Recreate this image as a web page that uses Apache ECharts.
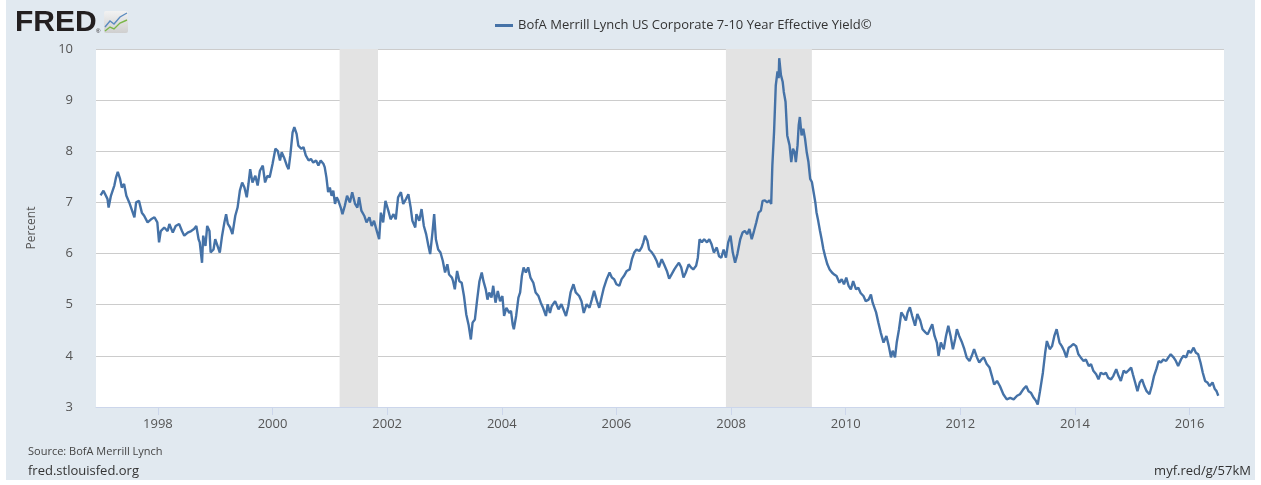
<!DOCTYPE html>
<html>
<head>
<meta charset="utf-8">
<script src="https://cdn.jsdelivr.net/npm/echarts@6/dist/echarts.min.js"></script>
<style>
  html, body { margin: 0; padding: 0; background: #fff; }
  #chart { width: 1261px; height: 485px; }
</style>
</head>
<body>
<div id="chart"></div>
<script>
const years = [
  1997.00,1997.05,1997.08,1997.12,1997.14,1997.18,1997.24,1997.27,1997.30,1997.34,
  1997.37,1997.41,1997.45,1997.50,1997.55,1997.59,1997.62,1997.67,1997.72,1997.76,
  1997.79,1997.82,1997.88,1997.94,1997.99,1998.02,1998.05,1998.11,1998.17,1998.20,
  1998.26,1998.31,1998.37,1998.42,1998.46,1998.52,1998.58,1998.63,1998.67,1998.71,
  1998.73,1998.77,1998.79,1998.83,1998.86,1998.90,1998.92,1998.97,1999.00,1999.04,
  1999.08,1999.12,1999.16,1999.19,1999.22,1999.26,1999.30,1999.35,1999.39,1999.43,
  1999.47,1999.51,1999.55,1999.58,1999.61,1999.65,1999.70,1999.74,1999.78,1999.83,
  1999.87,1999.91,1999.95,2000.00,2000.05,2000.09,2000.13,2000.16,2000.20,2000.25,
  2000.28,2000.31,2000.35,2000.38,2000.42,2000.45,2000.50,2000.54,2000.58,2000.63,
  2000.67,2000.71,2000.76,2000.80,2000.84,
  2000.89,2000.91,2000.94,2000.97,2001.00,2001.03,2001.06,2001.09,2001.12,2001.15,
  2001.19,2001.22,2001.26,2001.30,2001.35,2001.39,2001.44,2001.48,2001.51,2001.55,
  2001.60,2001.64,2001.69,2001.73,2001.77,2001.82,2001.86,2001.89,2001.93,2001.97,
  2002.02,2002.06,2002.11,2002.15,2002.19,2002.24,2002.28,2002.33,2002.37,2002.41,
  2002.44,2002.49,2002.51,2002.56,2002.60,2002.64,2002.68,2002.72,2002.75,2002.79,
  2002.82,2002.85,2002.89,2002.93,2002.97,2003.01,2003.05,2003.08,2003.13,2003.15,
  2003.18,2003.22,2003.26,2003.30,2003.34,2003.38,2003.42,2003.46,2003.49,2003.53,
  2003.57,2003.61,2003.65,2003.68,2003.72,2003.75,2003.78,2003.82,2003.85,2003.89,
  2003.93,2003.97,2004.01,2004.04,2004.08,2004.13,2004.16,2004.19,2004.21,2004.25,
  2004.29,2004.32,2004.35,2004.38,2004.42,2004.46,2004.50,2004.55,2004.59,2004.64,
  2004.68,2004.72,2004.77,2004.80,2004.84,
  2004.87,2004.93,2004.99,2005.04,2005.12,2005.16,2005.20,2005.25,2005.29,2005.35,
  2005.39,2005.43,2005.48,2005.53,2005.57,2005.61,2005.66,2005.70,2005.74,2005.78,
  2005.83,2005.88,2005.92,2005.96,2006.00,2006.05,2006.09,2006.13,2006.18,2006.23,
  2006.27,2006.31,2006.35,2006.40,2006.44,2006.47,2006.50,2006.54,2006.57,2006.62,
  2006.66,2006.70,2006.74,2006.79,2006.83,2006.88,2006.92,2006.96,2007.01,2007.05,
  2007.09,2007.13,2007.17,2007.21,2007.26,2007.30,2007.34,2007.39,2007.42,2007.45,
  2007.49,2007.53,2007.58,2007.62,2007.66,2007.70,2007.75,2007.79,2007.83,2007.87,
  2007.91,2007.95,2007.99,2008.03,2008.07,2008.11,2008.16,2008.20,2008.24,2008.28,
  2008.32,2008.36,2008.40,2008.44,2008.48,2008.52,2008.55,
  2008.59,2008.63,2008.67,2008.70,2008.72,2008.75,2008.78,2008.81,2008.83,2008.84,
  2008.87,2008.90,2008.92,2008.95,2008.98,2009.02,2009.05,2009.08,2009.11,2009.13,
  2009.16,2009.18,2009.20,2009.23,2009.26,2009.29,2009.32,2009.35,2009.38,2009.41,
  2009.44,2009.47,2009.49,2009.52,2009.55,2009.58,2009.61,2009.64,2009.68,2009.72,
  2009.76,2009.80,2009.84,2009.89,2009.93,2009.97,2010.01,2010.05,2010.09,2010.13,
  2010.18,2010.22,2010.26,2010.31,2010.35,2010.40,2010.44,2010.47,
  2010.53,2010.57,2010.61,2010.66,2010.71,2010.75,2010.79,2010.82,2010.86,2010.89,
  2010.93,2010.97,2011.01,2011.05,2011.08,2011.12,2011.16,2011.21,2011.25,2011.30,
  2011.34,2011.39,2011.43,2011.47,2011.51,2011.55,2011.59,2011.62,2011.66,2011.71,
  2011.75,2011.79,2011.83,2011.87,2011.91,2011.94,2011.98,2012.03,2012.07,2012.11,
  2012.16,2012.20,2012.24,2012.29,2012.33,2012.37,2012.41,2012.46,2012.51,
  2012.55,2012.59,2012.64,2012.69,2012.75,2012.81,2012.87,2012.93,2012.99,2013.04,
  2013.10,2013.15,2013.19,2013.23,2013.28,2013.32,2013.35,2013.39,2013.44,2013.48,
  2013.51,2013.56,2013.60,2013.64,2013.68,2013.73,2013.77,2013.81,2013.85,2013.89,
  2013.93,2013.97,2014.02,2014.06,2014.10,2014.15,2014.19,2014.24,2014.28,2014.32,
  2014.37,2014.41,2014.45,2014.50,2014.54,2014.58,2014.63,2014.67,2014.72,2014.76,
  2014.80,2014.85,2014.89,2014.93,2014.98,2015.01,2015.05,2015.09,2015.13,2015.17,
  2015.21,2015.25,2015.30,2015.34,2015.38,2015.42,2015.46,2015.50,2015.54,2015.59,
  2015.63,2015.67,2015.72,2015.76,2015.80,2015.85,2015.89,2015.94,2015.98,2016.02,
  2016.07,2016.11,2016.15,2016.19,2016.23,2016.27,2016.31,2016.35,2016.40,2016.44,
  2016.47,2016.50
];

// effective yield, percent
const yieldPct = [
  7.14,7.23,7.25,7.07,6.90,7.13,7.33,7.49,7.60,7.46,
  7.29,7.36,7.13,7.00,6.84,6.71,7.00,7.03,6.80,6.74,
  6.77,6.61,6.67,6.71,6.61,6.22,6.44,6.51,6.44,6.58,
  6.41,6.54,6.58,6.44,6.35,6.41,6.44,6.48,6.54,6.28,
  6.22,5.82,6.35,6.15,6.54,6.44,6.02,6.08,6.28,6.15,
  6.02,6.35,6.61,6.77,6.58,6.51,6.38,6.74,6.90,7.23,
  7.39,7.29,7.10,7.36,7.65,7.39,7.52,7.33,7.62,7.72,
  7.39,7.52,7.49,7.75,8.05,8.01,7.82,7.98,7.88,7.72,
  7.65,7.92,8.37,8.47,8.34,8.11,8.05,8.08,7.92,7.82,
  7.85,7.78,7.82,7.72,7.82,
  7.75,7.69,7.49,7.20,7.29,7.13,7.23,6.97,7.10,7.03,
  6.90,6.77,6.93,7.13,7.00,7.20,6.97,6.90,7.10,6.84,
  6.74,6.61,6.71,6.54,6.64,6.44,6.28,6.80,6.61,7.03,
  6.84,6.67,6.77,6.67,7.10,7.20,6.97,7.07,7.16,6.90,
  6.64,6.51,6.77,6.64,6.87,6.54,6.38,6.15,5.99,6.41,
  6.77,6.28,6.08,6.02,5.86,5.63,5.79,5.59,5.53,5.46,
  5.30,5.66,5.46,5.43,5.17,4.81,4.61,4.32,4.65,4.71,
  5.10,5.46,5.63,5.46,5.30,5.10,5.24,5.14,5.37,5.04,
  5.27,5.07,5.17,4.78,4.94,4.84,4.88,4.61,4.52,4.78,
  5.14,5.24,5.56,5.73,5.63,5.73,5.53,5.43,5.24,5.17,
  5.04,4.94,4.78,5.01,4.84,
  4.97,5.07,4.91,5.01,4.78,4.97,5.24,5.40,5.24,5.17,
  5.07,4.84,5.01,4.94,5.10,5.27,5.07,4.94,5.14,5.33,
  5.50,5.63,5.53,5.50,5.40,5.37,5.50,5.56,5.66,5.69,
  5.89,6.02,6.08,6.05,6.12,6.22,6.35,6.25,6.08,6.02,
  5.95,5.86,5.73,5.89,5.79,5.66,5.51,5.59,5.69,5.76,
  5.82,5.73,5.53,5.63,5.79,5.73,5.69,5.76,5.92,6.28,
  6.22,6.28,6.22,6.28,6.18,6.02,6.12,5.95,5.92,6.08,
  5.92,6.22,6.35,6.02,5.82,5.99,6.28,6.41,6.44,6.38,
  6.48,6.28,6.44,6.61,6.80,6.84,7.03,
  7.04,7.00,7.04,6.97,7.72,8.38,9.29,9.56,9.43,9.82,
  9.49,9.36,9.16,8.97,8.31,8.12,7.79,8.05,7.98,7.79,
  8.12,8.51,8.67,8.31,8.44,8.25,7.98,7.79,7.46,7.40,
  7.20,7.00,6.81,6.64,6.45,6.28,6.09,5.95,5.79,5.69,
  5.63,5.59,5.56,5.43,5.50,5.40,5.53,5.37,5.30,5.46,
  5.30,5.33,5.23,5.17,5.07,5.10,5.20,5.04,
  4.85,4.65,4.46,4.26,4.39,4.20,3.97,4.10,3.97,4.26,
  4.52,4.85,4.78,4.69,4.85,4.95,4.78,4.59,4.82,4.69,
  4.52,4.46,4.42,4.52,4.62,4.39,4.26,4.00,4.26,4.13,
  4.39,4.59,4.39,4.13,4.33,4.52,4.39,4.26,4.13,3.97,
  3.90,4.00,4.13,3.97,3.87,3.93,3.97,3.84,3.77,
  3.61,3.44,3.51,3.41,3.25,3.15,3.18,3.15,3.22,3.25,
  3.35,3.41,3.31,3.28,3.18,3.12,3.05,3.31,3.67,4.06,
  4.29,4.13,4.19,4.39,4.52,4.26,4.19,4.10,3.97,4.16,
  4.19,4.23,4.19,4.03,3.97,3.90,3.93,3.80,3.84,3.71,
  3.64,3.54,3.67,3.64,3.67,3.57,3.54,3.61,3.74,3.61,
  3.51,3.71,3.67,3.71,3.77,3.64,3.48,3.31,3.48,3.54,
  3.41,3.31,3.25,3.41,3.61,3.74,3.90,3.87,3.93,3.90,
  3.97,4.03,3.97,3.90,3.80,3.93,4.00,3.97,4.10,4.06,
  4.16,4.06,4.03,3.87,3.67,3.51,3.48,3.41,3.48,3.35,
  3.31,3.22
];

const yearTicks = [1998, 2000, 2002, 2004, 2006, 2008, 2010, 2012, 2014, 2016];
// shaded recessions (start, end) in decimal years
const recessions = [[2001.17, 2001.84], [2007.91, 2009.41]];
const seriesName = 'BofA Merrill Lynch US Corporate 7-10 Year Effective Yield©';

const chart = echarts.init(document.getElementById('chart'));
const points = years.map((y, i) => [y, yieldPct[i]]);

chart.setOption({
  animation: false,
  backgroundColor: '#fff',
  textStyle: { fontFamily: 'Open Sans' },
  graphic: [
    { type: 'rect', z: -10, shape: { x: 6, y: 0, width: 1249, height: 480 }, style: { fill: '#e1e9f0' } },
    { type: 'text', x: 15, y: 23, style: { text: 'FRED', font: 'bold 30px "Liberation Sans"', fill: '#231f20', verticalAlign: 'middle' } },
    { type: 'text', x: 96, y: 31, style: { text: '®', font: '6px "Liberation Sans"', fill: '#231f20', verticalAlign: 'middle' } },
    {
      type: 'rect', shape: { x: 104, y: 11, width: 24, height: 22, r: 2 },
      style: { fill: new echarts.graphic.LinearGradient(0, 0, 0, 1, [{ offset: 0, color: '#f2f2f2' }, { offset: 1, color: '#cfcfcf' }]) }
    },
    { type: 'polyline', shape: { points: [[105, 27], [110, 21], [114, 24], [120, 17], [127, 13]] }, style: { stroke: '#5b8bbf', lineWidth: 1.4, fill: null } },
    { type: 'polyline', shape: { points: [[105, 31], [110, 27], [114, 29], [120, 23], [127, 20]] }, style: { stroke: '#7ab648', lineWidth: 1.4, fill: null } },
    { type: 'text', x: 28, y: 452, style: { text: 'Source: BofA Merrill Lynch', font: '11px "Open Sans"', fill: '#444', verticalAlign: 'middle' } },
    { type: 'text', x: 28, y: 471, style: { text: 'fred.stlouisfed.org', font: '13px "Open Sans"', fill: '#333', verticalAlign: 'middle' } },
    { type: 'text', x: 1251, y: 471, style: { text: 'myf.red/g/57kM', font: '13px "Open Sans"', fill: '#333', align: 'right', verticalAlign: 'middle' } }
  ],
  legend: {
    left: 490,
    top: 14,
    icon: 'rect',
    itemWidth: 18,
    itemHeight: 3,
    itemGap: 8,
    textStyle: { fontSize: 13, color: '#333', fontFamily: 'Open Sans' },
    data: [seriesName]
  },
  grid: { left: 96, right: 37, top: 49, bottom: 78, show: true, backgroundColor: '#fff', borderWidth: 0 },
  xAxis: {
    type: 'value',
    min: 1996.92,
    max: 2016.6,
    splitLine: { show: false },
    axisLine: { lineStyle: { color: '#ccd6eb' } },
    axisTick: { customValues: yearTicks, length: 8, lineStyle: { color: '#ccd6eb' } },
    axisLabel: { customValues: yearTicks, formatter: v => String(Math.round(v)), color: '#555', fontSize: 13, margin: 11 }
  },
  yAxis: {
    type: 'value',
    min: 3,
    max: 10,
    interval: 1,
    name: 'Percent',
    nameLocation: 'middle',
    nameGap: 58,
    nameTextStyle: { color: '#555', fontSize: 12 },
    axisLine: { show: false },
    axisTick: { show: false },
    splitLine: { lineStyle: { color: '#cccccc' } },
    axisLabel: { color: '#555', fontSize: 13, margin: 23 }
  },
  series: [{
    name: seriesName,
    type: 'line',
    data: points,
    symbol: 'none',
    lineStyle: { color: '#4572a7', width: 2.4 },
    itemStyle: { color: '#4572a7' },
    markArea: {
      silent: true,
      itemStyle: { color: '#e3e3e3' },
      data: recessions.map(r => [{ xAxis: r[0] }, { xAxis: r[1] }])
    }
  }]
});
</script>
</body>
</html>
